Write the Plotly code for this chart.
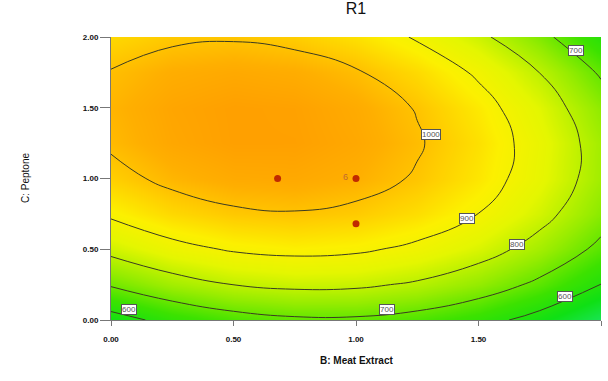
import plotly.graph_objects as go

# Factor levels (grid of the response surface)
meat_extract = [0.0, 0.25, 0.5, 0.75, 1.0, 1.25, 1.5, 1.75, 2.0]
peptone = [0.0, 0.25, 0.5, 0.75, 1.0, 1.25, 1.5, 1.75, 2.0]

# R1 values (rows = peptone, cols = meat extract)
r1 = [
    [566.0, 626.5, 667.1, 687.7, 688.3, 668.9, 629.6, 570.3, 491.0],
    [708.1, 764.3, 800.6, 816.9, 813.3, 789.7, 746.0, 682.5, 598.9],
    [823.6, 875.6, 907.6, 919.7, 911.8, 883.9, 836.0, 768.1, 680.3],
    [912.7, 960.4, 988.1, 995.9, 983.7, 951.6, 899.4, 827.3, 735.2],
    [975.2, 1018.7, 1042.2, 1045.7, 1029.2, 992.8, 936.4, 860.0, 763.6],
    [1011.3, 1050.5, 1069.7, 1068.9, 1048.2, 1007.5, 946.8, 866.1, 765.5],
    [1020.8, 1055.7, 1070.7, 1065.7, 1040.7, 995.7, 930.7, 845.8, 740.9],
    [1003.9, 1034.5, 1045.2, 1035.9, 1006.6, 957.4, 888.2, 799.0, 689.8],
    [960.4, 986.8, 993.2, 979.6, 946.1, 892.6, 819.1, 725.6, 612.2],
]

# Contour levels
level_start, level_end, level_step = 600, 1000, 100

# Design points
design_x = [0.68, 1.0, 1.0]
design_y = [1.0, 1.0, 0.68]

# Contour label texts and where they sit
label_text = ["1000", "900", "800", "700", "700", "600", "600"]
label_x = [1.306, 1.452, 1.656, 1.898, 1.125, 1.853, 0.073]
label_y = [1.314, 0.719, 0.537, 1.903, 0.071, 0.165, 0.071]

x_ticks = [0.0, 0.5, 1.0, 1.5, 2.0]
y_ticks = [0.0, 0.5, 1.0, 1.5, 2.0]
tick_text = ["0.00", "0.50", "1.00", "1.50", "2.00"]

zmin, zmax = 490, 1075
stops = [
    (490, "rgb(25,228,85)"),
    (560, "rgb(15,224,20)"),
    (650, "rgb(60,226,0)"),
    (750, "rgb(150,236,0)"),
    (850, "rgb(228,246,0)"),
    (920, "rgb(252,240,0)"),
    (980, "rgb(255,205,0)"),
    (1030, "rgb(255,175,0)"),
    (1075, "rgb(255,158,0)"),
]
colorscale = [[(v - zmin) / (zmax - zmin), c] for v, c in stops]

FONT = "Arial, Liberation Sans, sans-serif"

fig = go.Figure()
fig.add_trace(go.Contour(
    x=meat_extract, y=peptone, z=r1,
    zmin=zmin, zmax=zmax, colorscale=colorscale, showscale=False,
    contours=dict(start=level_start, end=level_end, size=level_step,
                  coloring="heatmap", showlabels=False),
    line=dict(color="#3b3b22", width=1, smoothing=1.3),
    hoverinfo="skip",
))
fig.add_trace(go.Scatter(
    x=design_x, y=design_y, mode="markers",
    marker=dict(color="#c02a00", size=7, line=dict(width=0)),
    hoverinfo="skip", showlegend=False,
))

for t, lx, ly in zip(label_text, label_x, label_y):
    fig.add_annotation(x=lx, y=ly, text=t, showarrow=False,
                       font=dict(family=FONT, size=8, color="#555555"),
                       bgcolor="white", bordercolor="#555555", borderwidth=1,
                       borderpad=0)

fig.add_annotation(x=design_x[1], y=design_y[1], text="6", showarrow=False,
                   xshift=-11, yshift=2,
                   font=dict(family=FONT, size=9, color="#c06a30"))

fig.add_annotation(text="B: Meat Extract", xref="paper", yref="paper",
                   x=0.5, y=0, yshift=-48, showarrow=False,
                   font=dict(family=FONT, size=10, color="#111111", weight="bold"))
fig.add_annotation(text="C: Peptone", xref="paper", yref="paper",
                   x=0, y=0.5, xshift=-93, textangle=-90, showarrow=False,
                   font=dict(family=FONT, size=10, color="#111111"))

fig.update_layout(
    width=608, height=381,
    margin=dict(l=111, r=7, t=37, b=61),
    paper_bgcolor="white", plot_bgcolor="white",
    showlegend=False,
    title=dict(text="R1", x=0.5, xref="paper",
               y=1, yref="container", yanchor="top", pad=dict(t=3),
               font=dict(family=FONT, size=16, color="#111111")),
    xaxis=dict(range=[0, 2], tickvals=x_ticks, ticktext=tick_text,
               ticks="outside", ticklen=5, tickcolor="#777777",
               ticklabelstandoff=6,
               showline=True, linecolor="#777777", linewidth=1, mirror=False,
               showgrid=False, zeroline=False,
               tickfont=dict(family=FONT, size=8, color="#111111", weight="bold")),
    yaxis=dict(range=[0, 2], tickvals=y_ticks, ticktext=tick_text,
               ticks="outside", ticklen=10, tickcolor="#777777",
               showline=True, linecolor="#777777", linewidth=1, mirror=False,
               showgrid=False, zeroline=False,
               tickfont=dict(family=FONT, size=8, color="#111111", weight="bold")),
)

fig.write_html("out.html")
